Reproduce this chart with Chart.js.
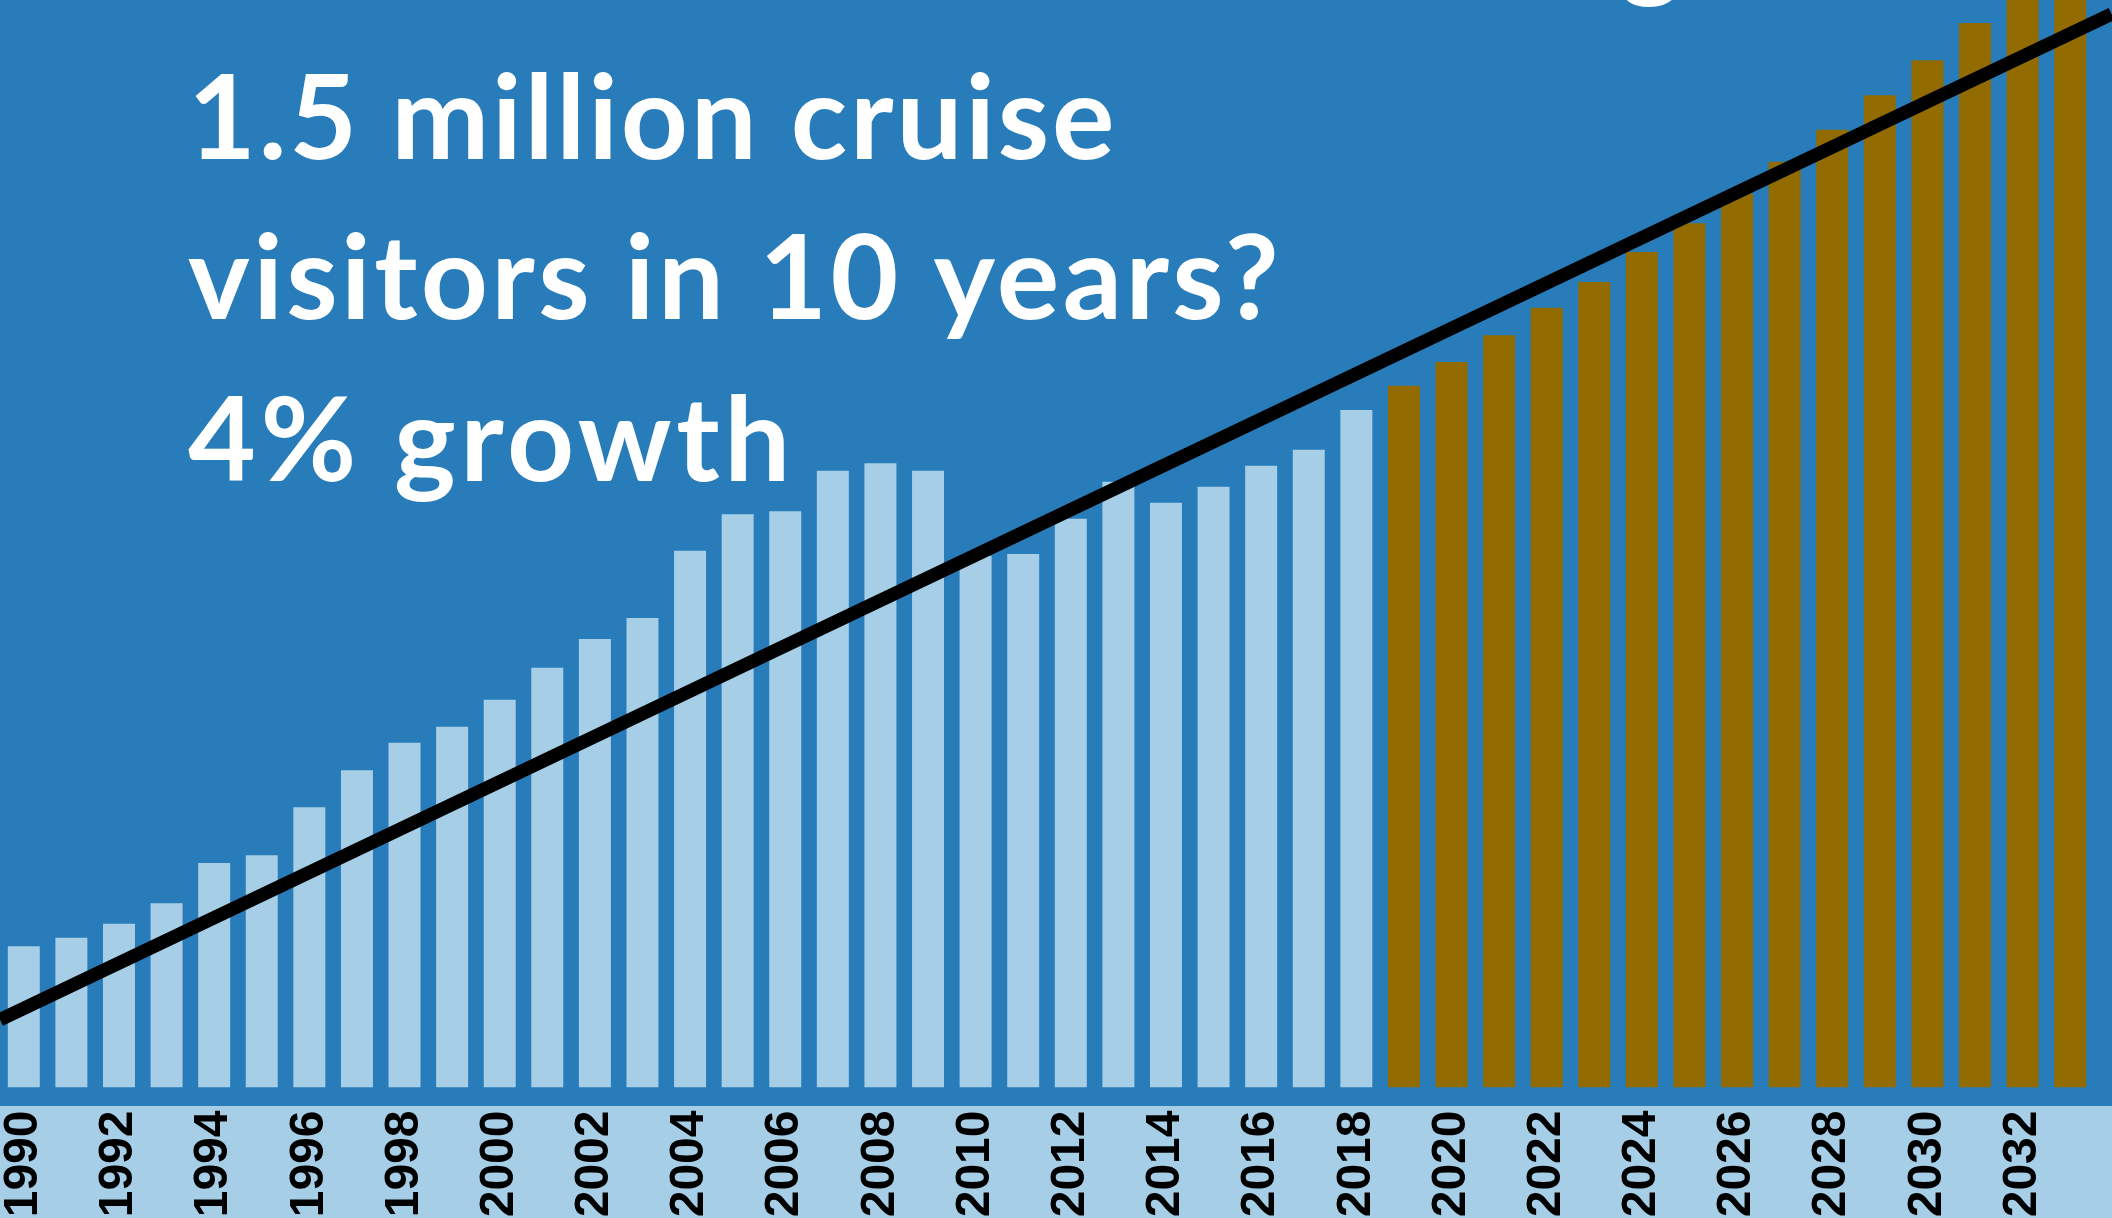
<!DOCTYPE html>
<html>
<head>
<meta charset="utf-8">
<title>Cruise visitors</title>
<script src="https://cdn.jsdelivr.net/npm/chart.js@4.4.1/dist/chart.umd.min.js"></script>
<style>
  html, body { margin: 0; padding: 0; background: #277cb9; overflow: hidden; }
  #wrap { width: 2112px; height: 1218px; }
  canvas { display: block; }
</style>
</head>
<body>
<div id="wrap"><canvas id="chart" width="2112" height="1218"></canvas></div>
<script>
// Years on the category axis
const years = [
  '1990','1991','1992','1993','1994','1995','1996','1997','1998','1999',
  '2000','2001','2002','2003','2004','2005','2006','2007','2008','2009',
  '2010','2011','2012','2013','2014','2015','2016','2017','2018','2019',
  '2020','2021','2022','2023','2024','2025','2026','2027','2028','2029',
  '2030','2031','2032','2033'
];

// Cruise visitors (thousands), recorded 1990-2018
const visitorsActual = [
  221, 234, 256, 288, 351, 363, 438, 496, 539, 564,
  606, 656, 701, 734, 839, 896, 901, 964, 976, 964,
  831, 834, 889, 947, 914, 939, 972, 997, 1059
];

// Cruise visitors (thousands), projected 2019-2033
const visitorsProjected = [
  1097, 1134, 1176, 1219, 1259, 1306, 1351, 1397, 1447, 1497,
  1551, 1606, 1664, 1725, 1790
];

// Straight trend line, end points (year, thousands of visitors)
const trendYears = [1989.5, 2033.87];
const trendVisitors = [106, 1678];

// Headline lines
const headline = ['1.5 million cruise', 'visitors in 10 years?', '4% growth'];

const COLORS = {
  background: '#277cb9',
  band: '#a6cfe7',
  actual: '#a6cfe7',
  projected: '#926c00',
  trend: '#000000',
  text: '#ffffff'
};

const actualSeries = years.map((y, i) => i < visitorsActual.length ? visitorsActual[i] : null);
const projectedSeries = years.map((y, i) => {
  const k = i - visitorsActual.length;
  return k >= 0 ? visitorsProjected[k] : null;
});
const trendPoints = trendYears.map((x, i) => ({ x: x, y: trendVisitors[i] }));

// Blue page background plus the light strip that carries the year labels
const backdrop = {
  id: 'backdrop',
  beforeDraw(chart) {
    const { ctx, width, height, chartArea } = chart;
    ctx.save();
    ctx.fillStyle = COLORS.background;
    ctx.fillRect(0, 0, width, height);
    ctx.fillStyle = COLORS.band;
    const bandTop = chartArea.bottom + 18.5;
    ctx.fillRect(0, bandTop, width, height - bandTop);
    ctx.restore();
  }
};

// White headline text over the plot
const headlineText = {
  id: 'headlineText',
  afterDraw(chart) {
    const ctx = chart.ctx;
    ctx.save();
    ctx.fillStyle = COLORS.text;
    ctx.textBaseline = 'alphabetic';
    ctx.textAlign = 'left';
    ctx.font = '700 117px Lato';
    const spacings = ['2.8px', '3.4px', '4.6px'];
    const baselines = [159, 319, 481];
    headline.forEach((line, i) => {
      ctx.letterSpacing = spacings[i];
      ctx.fillText(line, 188, baselines[i]);
    });
    // descender of the heading above, cut by the top edge
    ctx.letterSpacing = '0px';
    ctx.textAlign = 'center';
    ctx.fillText('g', 1651, -14);
    ctx.restore();
  }
};

function draw() {
  new Chart(document.getElementById('chart'), {
    data: {
      labels: years,
      datasets: [
        {
          type: 'line',
          label: 'Trend',
          data: trendPoints,
          xAxisID: 'xt',
          yAxisID: 'y',
          borderColor: COLORS.trend,
          borderWidth: 13.5,
          pointRadius: 0,
          tension: 0,
          clip: false,
          order: 0
        },
        {
          type: 'bar',
          label: 'Cruise visitors',
          data: actualSeries,
          backgroundColor: COLORS.actual,
          borderWidth: 0,
          categoryPercentage: 1,
          barPercentage: 0.672,
          grouped: false,
          order: 1
        },
        {
          type: 'bar',
          label: 'Projected',
          data: projectedSeries,
          backgroundColor: COLORS.projected,
          borderWidth: 0,
          categoryPercentage: 1,
          barPercentage: 0.672,
          grouped: false,
          order: 1
        }
      ]
    },
    options: {
      responsive: false,
      devicePixelRatio: 1,
      animation: false,
      layout: { padding: { left: 0, right: 18, top: 0, bottom: 0 } },
      plugins: {
        legend: { display: false },
        tooltip: { enabled: false },
        title: { display: false }
      },
      scales: {
        x: {
          type: 'category',
          offset: true,
          grid: { display: false, drawTicks: false },
          border: { display: false },
          ticks: {
            autoSkip: false,
            minRotation: 90,
            maxRotation: 90,
            padding: 23,
            color: '#000000',
            font: { family: '"Liberation Sans", Arial, sans-serif', weight: 'bold', size: 48 },
            callback: (value, index) => index % 2 === 0 ? years[index] : ''
          },
          afterFit(scale) {
            scale.height = 130.5;
            scale.paddingLeft = 0;
            scale.paddingRight = 0;
          }
        },
        xt: {
          type: 'linear',
          display: false,
          min: 1989.5,
          max: 2033.5
        },
        y: {
          display: false,
          min: 0,
          max: 1700
        }
      }
    },
    plugins: [backdrop, headlineText]
  });
}

Promise.all([
  document.fonts.load('700 117px Lato'),
  document.fonts.load('bold 48px "Liberation Sans"')
]).then(draw, draw);
</script>
</body>
</html>
